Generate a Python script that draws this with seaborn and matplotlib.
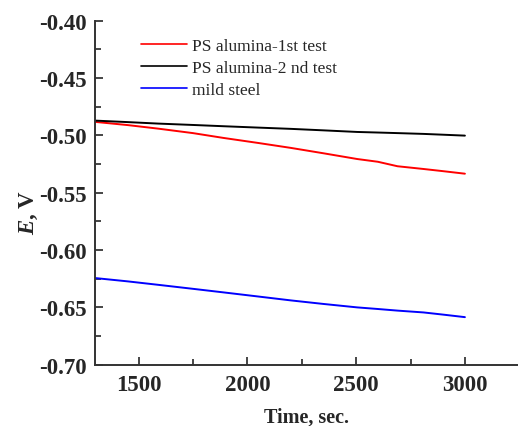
import matplotlib
matplotlib.use("Agg")
import matplotlib.pyplot as plt
from matplotlib.ticker import MultipleLocator, FormatStrFormatter
import seaborn as sns
import pandas as pd

time = [1300, 1450, 1590, 1750, 1890, 2050, 2200, 2350, 2505, 2600, 2690, 2810, 2900, 3000]
red_1st = [-0.4884, -0.4912, -0.4943, -0.4982, -0.5024, -0.5068, -0.5111, -0.5158,
           -0.5208, -0.5232, -0.5271, -0.5295, -0.5314, -0.5336]
black_2nd = [-0.4873, -0.4886, -0.4899, -0.4911, -0.4922, -0.4934, -0.4945, -0.4958,
             -0.4972, -0.4977, -0.4982, -0.4989, -0.4996, -0.5004]
blue_steel = [-0.6246, -0.6275, -0.6305, -0.6340, -0.6371, -0.6407, -0.6441, -0.6472,
              -0.6502, -0.6516, -0.6530, -0.6546, -0.6565, -0.6587]
series_names = ["PS alumina-1st test", "PS alumina-2 nd test", "mild steel"]
colors = ["#ff0000", "#000000", "#0000ff"]

frames = []
for name, vals in zip(series_names, [red_1st, black_2nd, blue_steel]):
    frames.append(pd.DataFrame({"time": time, "E": vals, "series": name}))
df = pd.concat(frames, ignore_index=True)

sns.set_style("ticks")
plt.rcParams['font.family'] = ['Liberation Serif', 'DejaVu Serif']
plt.rcParams['mathtext.fontset'] = 'custom'
plt.rcParams['mathtext.it'] = 'Liberation Serif:italic:bold'
plt.rcParams['mathtext.rm'] = 'Liberation Serif:bold'

fig = plt.figure(figsize=(5.18, 4.27), dpi=100)
ax = fig.add_axes([95/518, 1 - 365.5/427, 423/518, 344/427])
sns.lineplot(data=df, x="time", y="E", hue="series", palette=colors,
             hue_order=series_names, ax=ax, linewidth=1.4, legend=True)

ax.set_xlim(1300, 3244)
ax.set_ylim(-0.70, -0.40)
ax.xaxis.set_major_locator(MultipleLocator(500))
ax.xaxis.set_minor_locator(MultipleLocator(250))
ax.yaxis.set_major_locator(MultipleLocator(0.05))
ax.yaxis.set_minor_locator(MultipleLocator(0.025))
ax.yaxis.set_major_formatter(FormatStrFormatter('%.2f'))
ax.tick_params(which='major', direction='in', length=6, width=1.2, labelsize=16.5)
ax.tick_params(axis='x', which='major', pad=7)
ax.tick_params(axis='y', which='major', pad=6)
ax.tick_params(which='minor', direction='in', length=4, width=1.2)
for lab in ax.get_xticklabels() + ax.get_yticklabels():
    lab.set_fontweight('bold')
for s in ['top', 'right']:
    ax.spines[s].set_visible(False)
for s in ['left', 'bottom']:
    ax.spines[s].set_linewidth(1.4)
    ax.spines[s].set_color('#333333')

ax.set_xlabel("Time, sec.", fontsize=14.5, fontweight='bold', labelpad=8.5)
ax.set_ylabel(r"$E$, V", fontsize=16.5, fontweight='bold')
ax.yaxis.set_label_coords(-0.130, 0.446)

leg = ax.legend(loc='upper left', bbox_to_anchor=(134/518, 1 - 32/427),
                bbox_transform=fig.transFigure, frameon=False, fontsize=12.5,
                handlelength=2.65, handletextpad=0.3, labelspacing=0.33, borderaxespad=0)
for line in leg.get_lines():
    line.set_linewidth(1.2)

fig.savefig("out.png", dpi=100)
